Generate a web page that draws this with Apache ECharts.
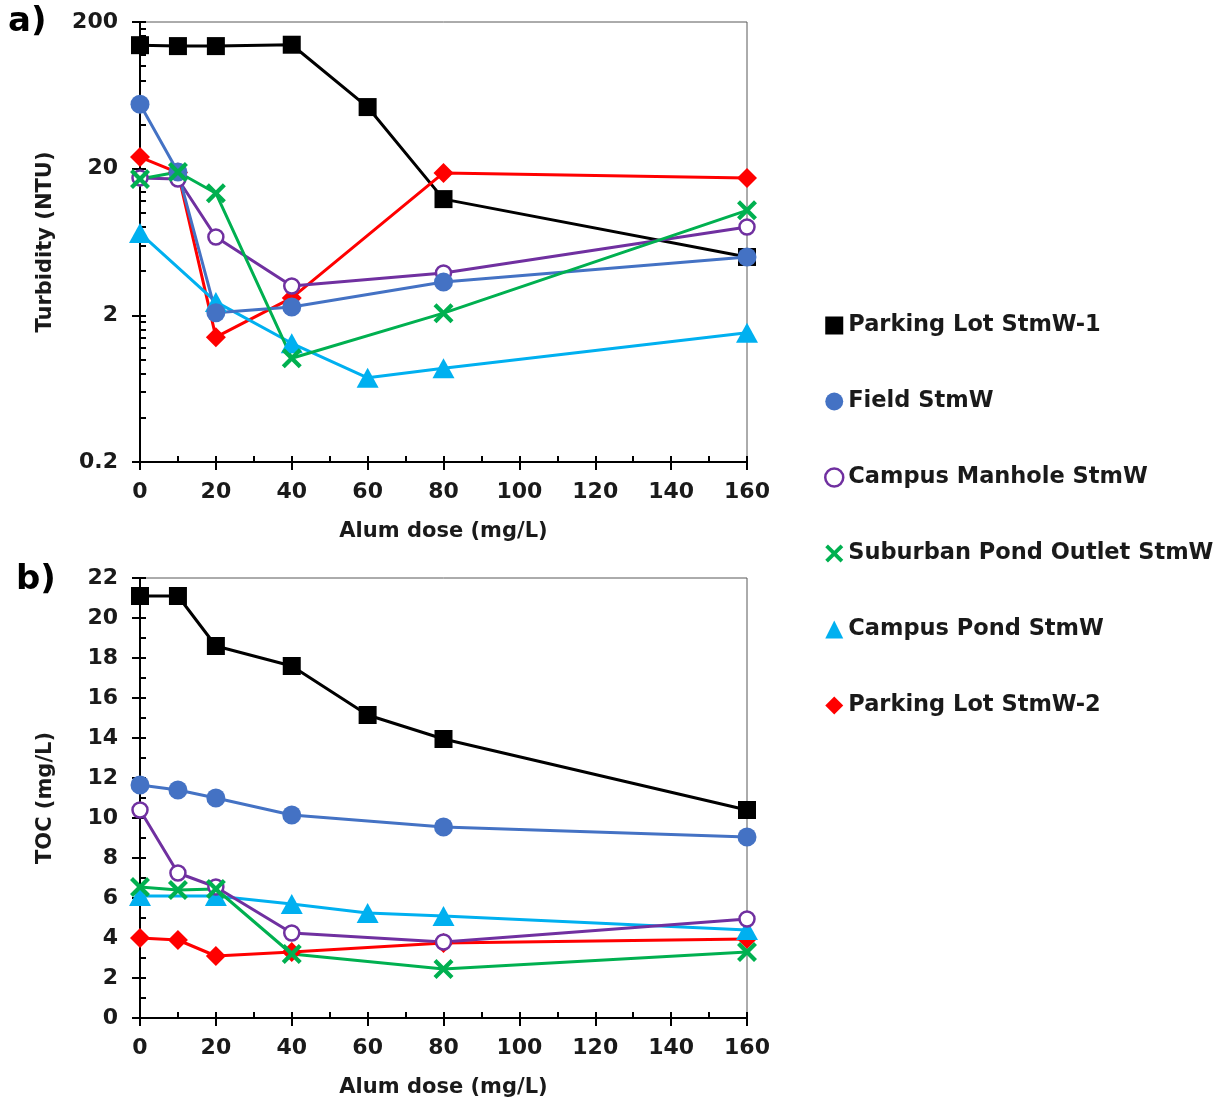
<!DOCTYPE html>
<html>
<head>
<meta charset="utf-8">
<script src="https://cdn.jsdelivr.net/npm/echarts@6/dist/echarts.min.js"></script>
<style>
html, body { margin: 0; padding: 0; background: #fff; }
#chart { width: 1225px; height: 1108px; }
</style>
</head>
<body>
<div id="chart"></div>
<script>
// alum doses (mg/L); null = no sample at that dose
var doses = [0, 10, 20, 40, 60, 80, 160];

// a) turbidity (NTU)
var turbParking1 = [139, 137, 137, 140, 52.6, 12.4, 5.0];
var turbField = [55, 19.0, 2.08, 2.28, null, 3.37, 5.0];
var turbManhole = [17.3, 17.0, 6.84, 3.17, null, 3.89, 8.0];
var turbSuburban = [17.0, 19.0, 13.6, 1.02, null, 2.07, 10.4];
var turbCampusPond = [7.28, null, 2.47, 1.29, 0.75, 0.87, 1.52];
var turbParking2 = [24.0, 18.8, 1.42, 2.63, null, 18.7, 17.3];

// b) TOC (mg/L)
var tocParking1 = [21.1, 21.1, 18.6, 17.6, 15.15, 13.95, 10.4];
var tocField = [11.65, 11.4, 11.0, 10.15, null, 9.55, 9.05];
var tocManhole = [10.4, 7.25, 6.55, 4.25, null, 3.8, 4.95];
var tocSuburban = [6.55, 6.4, 6.45, 3.2, null, 2.45, 3.3];
var tocCampusPond = [6.1, null, 6.1, 5.7, 5.25, 5.1, 4.4];
var tocParking2 = [4.0, 3.9, 3.1, 3.3, null, 3.75, 3.95];

var turbTicks = [0.2, 2, 20, 200];
var turbMinorTicks = [0.4, 0.6, 0.8, 1, 1.2, 1.4, 1.6, 1.8,
  4, 6, 8, 10, 12, 14, 16, 18,
  40, 60, 80, 100, 120, 140, 160, 180];

var legendOrder = ["Parking Lot StmW-1", "Field StmW", "Campus Manhole StmW",
  "Suburban Pond Outlet StmW", "Campus Pond StmW", "Parking Lot StmW-2"];

var FONT = "DejaVu Sans";
var TXT = "#1a1a1a";
var xMark = "path://M0,1.5L1.5,0L5,3.5L8.5,0L10,1.5L6.5,5L10,8.5L8.5,10L5,6.5L1.5,10L0,8.5L3.5,5Z";

// drawing order (back to front), each with its look
var looks = [
  { name: "Parking Lot StmW-1", color: "#000000", symbol: "rect", size: 18, turb: turbParking1, toc: tocParking1 },
  { name: "Parking Lot StmW-2", color: "#ff0000", symbol: "diamond", size: [20, 20], turb: turbParking2, toc: tocParking2 },
  { name: "Campus Pond StmW", color: "#00b0f0", symbol: "triangle", size: [22, 20], turb: turbCampusPond, toc: tocCampusPond },
  { name: "Campus Manhole StmW", color: "#7030a0", symbol: "circle", size: 15, hollow: true, turb: turbManhole, toc: tocManhole },
  { name: "Field StmW", color: "#4472c4", symbol: "circle", size: 19, turb: turbField, toc: tocField },
  { name: "Suburban Pond Outlet StmW", color: "#00b050", symbol: xMark, size: 20, turb: turbSuburban, toc: tocSuburban }
];

function pairs(ys) {
  var out = [];
  for (var i = 0; i < doses.length; i++) {
    if (ys[i] != null) out.push([doses[i], ys[i]]);
  }
  return out;
}

function makeSeries(lk, values, axisIdx) {
  return {
    name: lk.name,
    type: "line",
    xAxisIndex: axisIdx,
    yAxisIndex: axisIdx,
    data: pairs(values),
    symbol: lk.symbol,
    symbolSize: lk.size,
    showAllSymbol: true,
    lineStyle: { color: lk.color, width: 3 },
    itemStyle: lk.hollow
      ? { color: "#ffffff", borderColor: lk.color, borderWidth: 2.5 }
      : { color: lk.color, borderWidth: 0 },
    emphasis: { disabled: true }
  };
}

var tickLine = { color: "#000", width: 2 };
var labelStyle = { fontFamily: FONT, fontWeight: "bold", fontSize: 22, color: TXT };
var nameStyle = { fontFamily: FONT, fontWeight: "bold", fontSize: 21, color: TXT };

function xPair(gridIndex) {
  return [
    {
      type: "value", gridIndex: gridIndex, position: "bottom",
      min: 0, max: 160, interval: 20,
      axisLine: { show: true, onZero: false, lineStyle: tickLine },
      axisTick: { show: true, inside: false, length: 8, lineStyle: tickLine },
      axisLabel: Object.assign({ margin: 19 }, labelStyle),
      splitLine: { show: false },
      name: "Alum dose (mg/L)", nameLocation: "middle", nameGap: 59,
      nameTextStyle: nameStyle
    },
    {
      type: "value", gridIndex: gridIndex, position: "bottom",
      min: 0, max: 160, interval: 20,
      axisLine: { show: false, onZero: false },
      axisTick: { show: true, inside: true, length: 6, lineStyle: tickLine },
      minorTick: { show: true, splitNumber: 2, length: 6, lineStyle: tickLine },
      axisLabel: { show: false },
      splitLine: { show: false }
    }
  ];
}

var yAxes = [
  {
    type: "log", logBase: 10, gridIndex: 0, position: "left",
    min: 0.2, max: 200,
    axisLine: { show: true, onZero: false, lineStyle: tickLine },
    axisTick: { show: true, inside: false, length: 8, lineStyle: tickLine, customValues: turbTicks },
    axisLabel: Object.assign({ margin: 22, customValues: turbTicks }, labelStyle),
    splitLine: { show: false },
    name: "Turbidity (NTU)", nameLocation: "middle", nameGap: 84, nameRotate: 90,
    nameTextStyle: nameStyle
  },
  {
    type: "log", logBase: 10, gridIndex: 0, position: "left",
    min: 0.2, max: 200,
    axisLine: { show: false, onZero: false },
    axisTick: { show: true, inside: true, length: 6, lineStyle: tickLine,
      customValues: turbTicks.concat(turbMinorTicks) },
    axisLabel: { show: false },
    splitLine: { show: false }
  },
  {
    type: "value", gridIndex: 1, position: "left",
    min: 0, max: 22, interval: 2,
    axisLine: { show: true, onZero: false, lineStyle: tickLine },
    axisTick: { show: true, inside: false, length: 8, lineStyle: tickLine },
    axisLabel: Object.assign({ margin: 22 }, labelStyle),
    splitLine: { show: false },
    name: "TOC (mg/L)", nameLocation: "middle", nameGap: 84, nameRotate: 90,
    nameTextStyle: nameStyle
  },
  {
    type: "value", gridIndex: 1, position: "left",
    min: 0, max: 22, interval: 2,
    axisLine: { show: false, onZero: false },
    axisTick: { show: true, inside: true, length: 6, lineStyle: tickLine },
    minorTick: { show: true, splitNumber: 2, length: 6, lineStyle: tickLine },
    axisLabel: { show: false },
    splitLine: { show: false }
  }
];

var series = [];
looks.forEach(function (lk) { series.push(makeSeries(lk, lk.turb, 0)); });
looks.forEach(function (lk) { series.push(makeSeries(lk, lk.toc, 2)); });

var legendData = legendOrder.map(function (nm) {
  var lk = looks.filter(function (l) { return l.name === nm; })[0];
  return {
    name: nm,
    icon: lk.symbol,
    itemStyle: lk.hollow
      ? { color: "#ffffff", borderColor: lk.color, borderWidth: 2.5 }
      : { color: lk.color, borderWidth: 0 }
  };
});

var chart = echarts.init(document.getElementById("chart"));
chart.setOption({
  animation: false,
  backgroundColor: "#ffffff",
  grid: [
    { left: 140, top: 22, width: 607, height: 440, show: true, borderColor: "#595959", borderWidth: 1 },
    { left: 140, top: 578, width: 607, height: 440, show: true, borderColor: "#595959", borderWidth: 1 }
  ],
  xAxis: xPair(0).concat(xPair(1)),
  yAxis: yAxes,
  legend: {
    orient: "vertical",
    left: 824,
    top: 314,
    itemWidth: 18,
    itemHeight: 18,
    itemGap: 53,
    padding: 0,
    selectedMode: false,
    textStyle: { fontFamily: FONT, fontWeight: "bold", fontSize: 22.5, color: TXT },
    data: legendData
  },
  graphic: [
    { type: "text", left: 8, top: 5, style: { text: "a)", font: "bold 34px 'DejaVu Sans'", fill: "#000" } },
    { type: "text", left: 16, top: 563, style: { text: "b)", font: "bold 34px 'DejaVu Sans'", fill: "#000" } }
  ],
  series: series
});
</script>
</body>
</html>
